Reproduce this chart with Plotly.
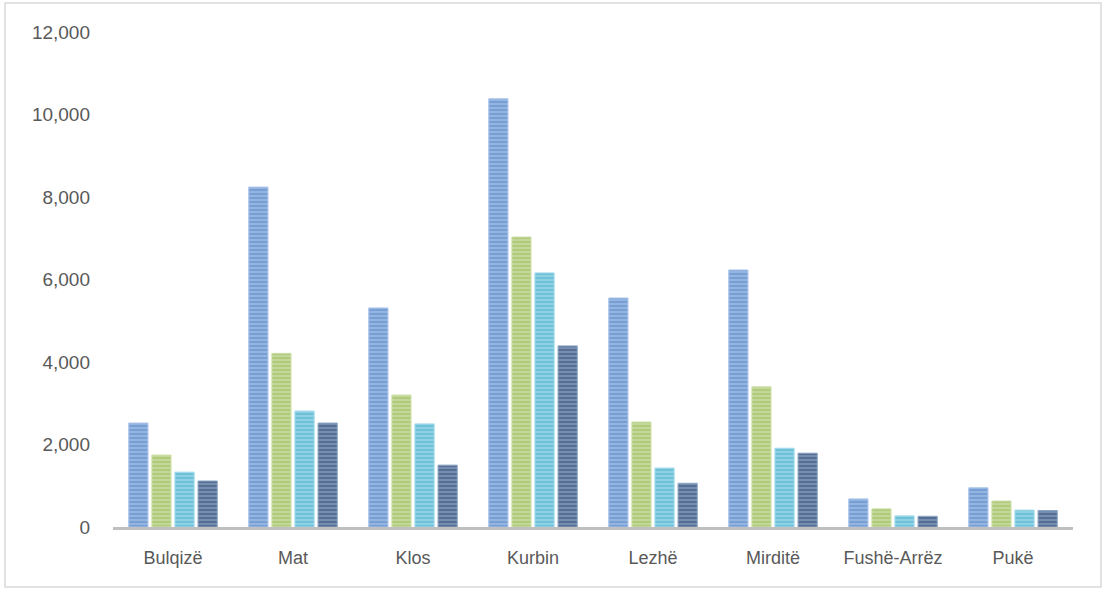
import plotly.graph_objects as go

categories = ["Bulqizë", "Mat", "Klos", "Kurbin", "Lezhë", "Mirditë", "Fushë-Arrëz", "Pukë"]
series_1 = [2520, 8240, 5310, 10380, 5550, 6230, 680, 950]
series_2 = [1745, 4210, 3200, 7030, 2545, 3400, 440, 630]
series_3 = [1330, 2810, 2500, 6160, 1430, 1910, 270, 410]
series_4 = [1115, 2520, 1500, 4390, 1060, 1790, 260, 400]
y_ticks = [0, 2000, 4000, 6000, 8000, 10000, 12000]

series = [
    ("Series 1", series_1, "#a6c2e8", "#4a7cc0"),
    ("Series 2", series_2, "#cfe0ab", "#91b44c"),
    ("Series 3", series_3, "#a0dbeb", "#3fa6c4"),
    ("Series 4", series_4, "#8aa3c4", "#1f3a60"),
]

fig = go.Figure()
for name, vals, light, dark in series:
    fig.add_trace(go.Bar(
        x=categories, y=vals, name=name,
        marker=dict(
            color=light,
            line=dict(color=light, width=1),
            pattern=dict(shape="-", fgcolor=dark, bgcolor=light, size=4, solidity=0.7),
        ),
    ))

fig.update_layout(
    width=1103, height=590,
    margin=dict(l=113, r=30, t=32, b=63),
    paper_bgcolor="white", plot_bgcolor="white",
    barmode="group", bargap=0.23, bargroupgap=0.17,
    showlegend=False,
    font=dict(family="Liberation Sans, Arial, sans-serif", size=19, color="#595959"),
    xaxis=dict(
        showline=True, linecolor="#bfbfbf", linewidth=3,
        showgrid=False, ticks="", ticklabelstandoff=12,
        tickfont=dict(size=18, color="#595959"),
    ),
    yaxis=dict(
        range=[0, 12000], tickvals=y_ticks, tickformat=",",
        showline=False, showgrid=False, zeroline=False, ticks="",
        ticklabelstandoff=22,
        tickfont=dict(size=19, color="#595959"),
    ),
    shapes=[dict(
        type="rect", xref="paper", yref="paper",
        x0=(5 - 113) / 960, x1=(1101 - 113) / 960,
        y0=(527 - 587) / 495, y1=(527 - 3) / 495,
        line=dict(color="#d9d9d9", width=1.5), fillcolor="rgba(0,0,0,0)", layer="below",
    )],
)

fig.write_html("out.html")
